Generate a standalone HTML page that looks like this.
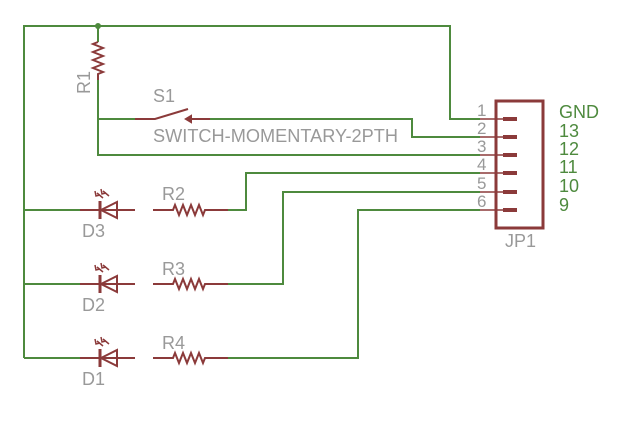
<!DOCTYPE html>
<html><head><style>body{margin:0;background:#fff}svg{display:block}</style></head>
<body>
<svg width="620" height="432" viewBox="0 0 620 432" xmlns="http://www.w3.org/2000/svg" font-family="Liberation Sans, sans-serif">
<defs>
<g id="row">
  <line x1="80" y1="0" x2="135" y2="0" stroke="#8b3a3a" stroke-width="2"/>
  <line x1="100" y1="-9" x2="100" y2="9" stroke="#8b3a3a" stroke-width="3"/>
  <polygon points="101,0 117,-8 117,8" fill="none" stroke="#8b3a3a" stroke-width="2"/>
  <path d="M97,-17 l6,5 M95,-19 l1,5 l4,-1 M103,-19 l6,5 M101,-21 l1,5 l4,-1" stroke="#8b3a3a" stroke-width="1.5" fill="none"/>
  <path d="M153,0 H173 l2,-5 l4,10 l4,-10 l4,10 l4,-10 l4,10 l4,-10 l4,10 l2,-5 H228" stroke="#8b3a3a" stroke-width="2" fill="none"/>
</g>
</defs>
<g stroke="#4e8a3e" stroke-width="2" fill="none">
  <path d="M24,358 V26 H450 V119 H480"/>
  <path d="M98,26 V42 M98,80 V155 H480"/>
  <path d="M98,119 H135 M210,119 H412 V137 H480"/>
  <path d="M228,210 H246 V173 H480"/>
  <path d="M228,284 H283 V192 H480"/>
  <path d="M228,358 H358 V210 H480"/>
  <path d="M24,210 H80 M24,284 H80 M24,358 H80"/>
</g>
<circle cx="98" cy="26" r="3" fill="#4e8a3e"/>
<path d="M98,42 l-5,2 l10,4 l-10,4 l10,4 l-10,4 l10,4 l-10,4 l10,4 l-5,2 V80" stroke="#8b3a3a" stroke-width="2" fill="none"/>
<g stroke="#8b3a3a" stroke-width="2" fill="none">
  <path d="M135,119 H155 L188,109 M190,119 H210"/>
  <path d="M186,119 l5,-3 v6 z" fill="#8b3a3a"/>
</g>
<use href="#row" y="210"/><use href="#row" y="284"/><use href="#row" y="358"/>
<rect x="496" y="101" width="47" height="127" fill="none" stroke="#8b3a3a" stroke-width="3"/>
<g stroke="#8b3a3a" stroke-width="4">
  <line x1="503" y1="119" x2="517" y2="119"/><line x1="503" y1="137" x2="517" y2="137"/>
  <line x1="503" y1="155" x2="517" y2="155"/><line x1="503" y1="173" x2="517" y2="173"/>
  <line x1="503" y1="192" x2="517" y2="192"/><line x1="503" y1="210" x2="517" y2="210"/>
</g>
<g stroke="#8b3a3a" stroke-width="1.5">
  <line x1="480" y1="119" x2="503" y2="119"/><line x1="480" y1="137" x2="503" y2="137"/>
  <line x1="480" y1="155" x2="503" y2="155"/><line x1="480" y1="173" x2="503" y2="173"/>
  <line x1="480" y1="192" x2="503" y2="192"/><line x1="480" y1="210" x2="503" y2="210"/>
</g>
<g fill="#999" font-size="17">
  <text x="477" y="116">1</text><text x="477" y="134">2</text><text x="477" y="152">3</text>
  <text x="477" y="170">4</text><text x="477" y="189">5</text><text x="477" y="207">6</text>
  <text x="505" y="247" font-size="18">JP1</text>
  <text x="153" y="102" font-size="18">S1</text>
  <text x="153" y="142" font-size="18" textLength="245" lengthAdjust="spacingAndGlyphs">SWITCH-MOMENTARY-2PTH</text>
  <text x="90" y="94" font-size="18" transform="rotate(-90 90 94)">R1</text>
  <text x="162" y="200" font-size="18">R2</text><text x="162" y="275" font-size="18">R3</text><text x="162" y="349" font-size="18">R4</text>
  <text x="82" y="237" font-size="18">D3</text><text x="82" y="311" font-size="18">D2</text><text x="82" y="385" font-size="18">D1</text>
</g>
<g fill="#4e8a3e" font-size="18">
  <text x="559" y="118">GND</text><text x="559" y="137">13</text><text x="559" y="155">12</text>
  <text x="559" y="173">11</text><text x="559" y="192">10</text><text x="559" y="211">9</text>
</g>
</svg>
</body></html>
